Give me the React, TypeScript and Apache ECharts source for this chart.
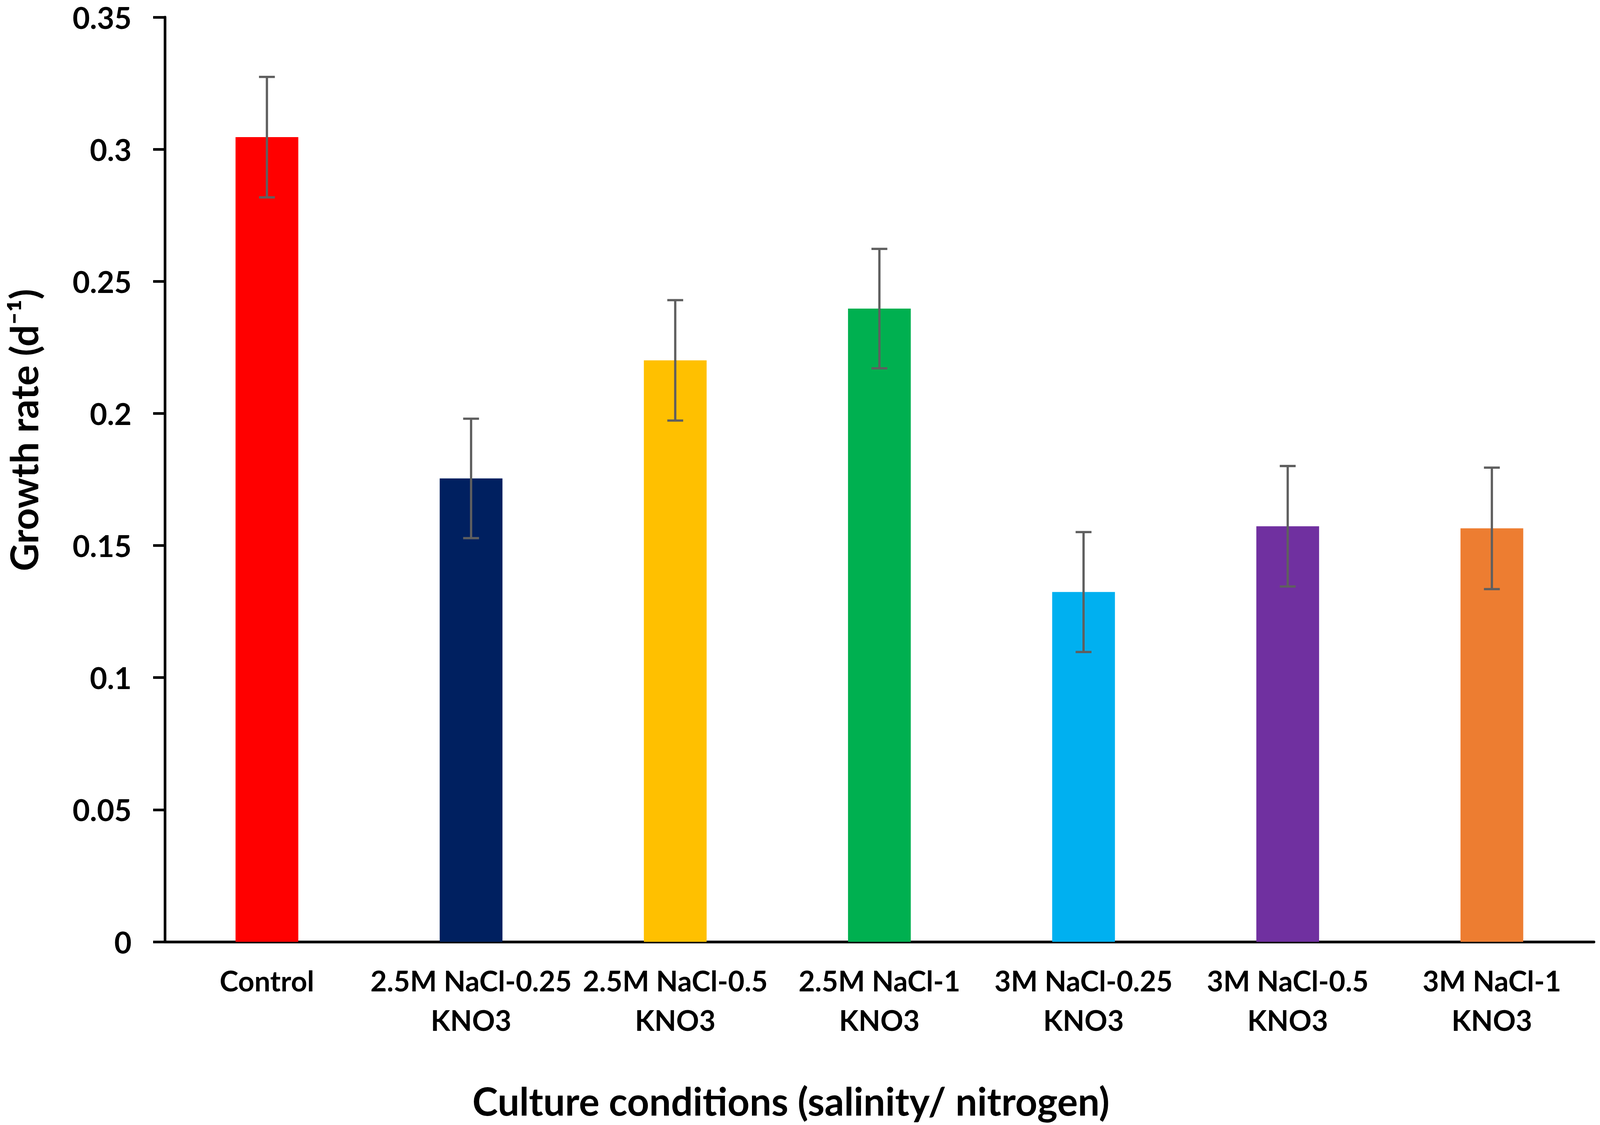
import React, { useEffect, useRef } from "react";
import * as echarts from "echarts";

const categories = [
  "Control",
  "2.5M NaCl-0.25\nKNO3",
  "2.5M NaCl-0.5\nKNO3",
  "2.5M NaCl-1\nKNO3",
  "3M NaCl-0.25\nKNO3",
  "3M NaCl-0.5\nKNO3",
  "3M NaCl-1\nKNO3",
];
const growthRate = [0.3046, 0.1754, 0.2201, 0.2397, 0.1324, 0.1573, 0.1565];
const errorSD = [0.0228, 0.0226, 0.0228, 0.0226, 0.0227, 0.0228, 0.023];
const barColors = ["#FF0000", "#002060", "#FFC000", "#00B050", "#00B0F0", "#7030A0", "#ED7D31"];
const yTicks = { min: 0, max: 0.35, interval: 0.05 };
const xTitle = "Culture conditions (salinity/ nitrogen)";
const yTitle = "Growth rate (d⁻¹)";

const FONT = "Lato, 'Open Sans', 'DejaVu Sans', sans-serif";
const REF_W = 4232;
const REF_H = 2880;

export default function App() {
  const ref = useRef<HTMLDivElement>(null);
  useEffect(() => {
    document.body.style.margin = "0";
    document.body.style.overflow = "hidden";
    document.documentElement.style.overflow = "hidden";
    const el = ref.current;
    if (!el) return;
    const W = el.clientWidth || REF_W;
    const H = el.clientHeight || REF_H;
    const sx = W / REF_W;
    const sy = H / REF_H;
    const s = Math.min(sx, sy);
    const chart = echarts.init(el, null, { renderer: "svg", width: W, height: H });
    const errData = growthRate.map((v, i) => [i, v - errorSD[i], v + errorSD[i]]);
    chart.setOption({
      animation: false,
      backgroundColor: "#ffffff",
      grid: { left: 436 * sx, right: 16 * sx, top: 44 * sy, bottom: 469 * sy, containLabel: false },
      xAxis: {
        type: "category",
        data: categories,
        axisLine: { show: true, lineStyle: { color: "#000000", width: 7 * s } },
        axisTick: { show: false },
        axisLabel: {
          interval: 0,
          margin: 48 * sy,
          fontFamily: FONT,
          fontWeight: "bold",
          fontSize: 75 * s,
          lineHeight: 101 * sy,
          color: "#000000",
        },
        splitLine: { show: false },
      },
      yAxis: {
        type: "value",
        min: yTicks.min,
        max: yTicks.max,
        interval: yTicks.interval,
        axisLine: { show: true, lineStyle: { color: "#000000", width: 7 * s } },
        axisTick: { show: true, inside: false, length: 31 * sx, lineStyle: { color: "#000000", width: 7 * s } },
        axisLabel: {
          margin: 88 * sx,
          fontFamily: FONT,
          fontWeight: "bold",
          fontSize: 79 * s,
          color: "#000000",
        },
        splitLine: { show: false },
      },
      graphic: [
        {
          type: "text",
          x: 2092 * sx,
          y: 2818 * sy,
          style: {
            text: xTitle,
            align: "center",
            verticalAlign: "middle",
            fontFamily: FONT,
            fontWeight: "bold",
            fontSize: 102 * s,
            fill: "#000000",
          },
        },
        {
          type: "text",
          x: 62 * sx,
          y: 1101 * sy,
          rotation: Math.PI / 2,
          style: {
            text: yTitle,
            align: "center",
            verticalAlign: "middle",
            fontFamily: FONT,
            fontWeight: "bold",
            fontSize: 101 * s,
            fill: "#000000",
          },
        },
      ],
      series: [
        {
          type: "bar",
          barWidth: 166 * sx,
          data: growthRate.map((v, i) => ({ value: v, itemStyle: { color: barColors[i] } })),
          z: 2,
        },
        {
          type: "custom",
          z: 3,
          data: errData,
          renderItem: (params: any, api: any) => {
            const x = api.value(0);
            const lo = api.coord([x, api.value(1)]);
            const hi = api.coord([x, api.value(2)]);
            const half = 21 * sx;
            const style = { stroke: "#5f5f5f", lineWidth: 6 * s };
            return {
              type: "group",
              children: [
                { type: "line", shape: { x1: hi[0], y1: hi[1], x2: lo[0], y2: lo[1] }, style },
                { type: "line", shape: { x1: hi[0] - half, y1: hi[1], x2: hi[0] + half, y2: hi[1] }, style },
                { type: "line", shape: { x1: lo[0] - half, y1: lo[1], x2: lo[0] + half, y2: lo[1] }, style },
              ],
            };
          },
        },
      ],
    });
    return () => chart.dispose();
  }, []);
  return <div ref={ref} style={{ width: "100vw", height: "100vh", overflow: "hidden" }} />;
}
